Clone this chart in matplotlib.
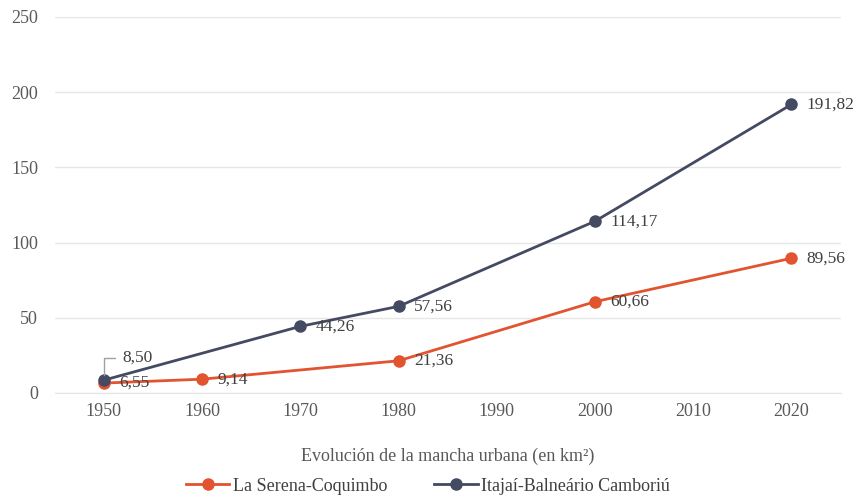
import matplotlib.pyplot as plt

plt.rcParams['font.family'] = ['Liberation Serif', 'DejaVu Serif']

# datos (km²)
years_ls = [1950, 1960, 1980, 2000, 2020]
area_ls = [6.55, 9.14, 21.36, 60.66, 89.56]
years_it = [1950, 1970, 1980, 2000, 2020]
area_it = [8.50, 44.26, 57.56, 114.17, 191.82]

label_ls = "La Serena-Coquimbo"
label_it = "Itajaí-Balneário Camboriú"
x_ticks = [1950, 1960, 1970, 1980, 1990, 2000, 2010, 2020]
y_ticks = [0, 50, 100, 150, 200, 250]

c_ls = "#E2532F"
c_it = "#454A63"
txt = "#404040"
fs = 13
fs_lbl = 12.5

fig = plt.figure(figsize=(8.56, 4.98), dpi=100)
ax = fig.add_axes([0.064, 0.211, 0.918, 0.755])

ax.plot(years_ls, area_ls, color=c_ls, lw=2, marker='o', ms=8, label=label_ls, zorder=3)
ax.plot(years_it, area_it, color=c_it, lw=2, marker='o', ms=8, label=label_it, zorder=4)

def fmt(v):
    return f"{v:.2f}".replace('.', ',')

for x, y in zip(years_ls, area_ls):
    ax.annotate(fmt(y), (x, y), xytext=(11, 0), textcoords='offset points',
                va='center', ha='left', fontsize=fs_lbl, color=txt, zorder=5)

for x, y in zip(years_it, area_it):
    if x == 1950:
        # etiqueta con línea guía
        ax.annotate(fmt(y), (x, y), xytext=(13, 16), textcoords='offset points',
                    va='center', ha='left', fontsize=fs_lbl, color=txt, zorder=5,
                    arrowprops=dict(arrowstyle='-', color='#A0A0A0', lw=1,
                                    connectionstyle='angle,angleA=0,angleB=90,rad=0',
                                    shrinkA=3, shrinkB=4))
    else:
        ax.annotate(fmt(y), (x, y), xytext=(11, 0), textcoords='offset points',
                    va='center', ha='left', fontsize=fs_lbl, color=txt, zorder=5)

ax.set_xlim(1945, 2025)
ax.set_ylim(0, 250)
ax.set_xticks(x_ticks)
ax.set_yticks(y_ticks)
ax.grid(axis='y', color='#E6E6E6', lw=1)
ax.set_axisbelow(True)
for s in ['top', 'right', 'left']:
    ax.spines[s].set_visible(False)
ax.spines['bottom'].set_color('#E6E6E6')
ax.tick_params(length=0, labelsize=fs, labelcolor='#595959')
ax.tick_params(axis='x', pad=7)
ax.tick_params(axis='y', pad=12)

ax.set_xlabel("Evolución de la mancha urbana (en km²)", fontsize=fs, color='#595959', labelpad=20)

fig.legend(loc='lower center', bbox_to_anchor=(0.5, -0.026), ncol=2, frameon=False,
           fontsize=fs, labelcolor='#404040', handlelength=2.4, handletextpad=0.2,
           columnspacing=2.6)

fig.savefig("out.png", dpi=100)
